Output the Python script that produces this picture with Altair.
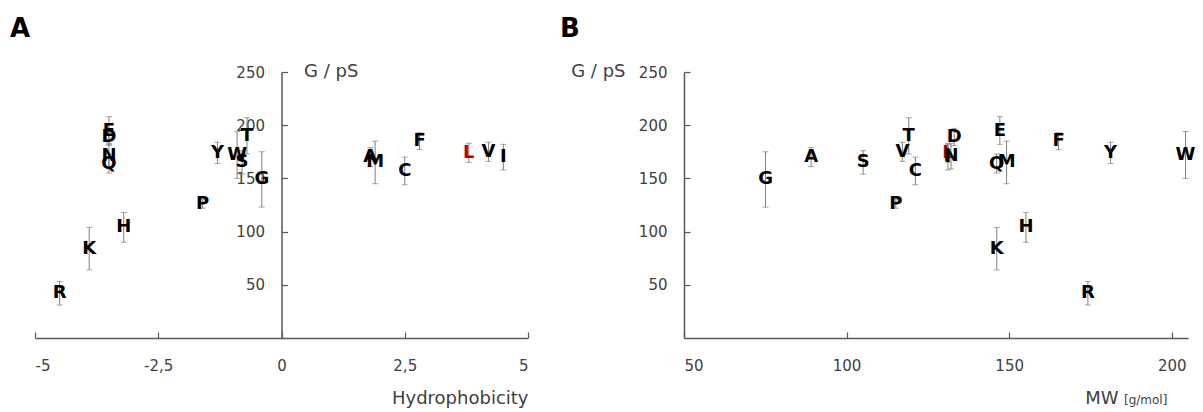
import altair as alt
import pandas as pd

# amino acids, ordered by molecular weight
aa = ["G", "A", "S", "P", "V", "T", "C", "L", "I", "N",
      "D", "Q", "K", "E", "M", "H", "F", "R", "Y", "W"]
mw = [75.07, 89.09, 105.09, 115.13, 117.15, 119.12, 121.16, 131.17, 131.17, 132.12,
      133.10, 146.15, 146.19, 147.13, 149.21, 155.16, 165.19, 174.20, 181.19, 204.23]
hydro = [-0.4, 1.8, -0.8, -1.6, 4.2, -0.7, 2.5, 3.8, 4.5, -3.5,
         -3.5, -3.5, -3.9, -3.5, 1.9, -3.2, 2.8, -4.5, -1.3, -0.9]
g_ps = [149, 170, 165, 126, 175, 190, 157, 174, 170, 171,
        189, 164, 84, 195, 165, 104, 185, 42, 174, 172]
g_err = [26, 9, 11, 4, 9, 17, 13, 9, 12, 12,
         8, 9, 20, 13, 20, 14, 8, 11, 10, 22]

x_ticks_a = [-5, -2.5, 0, 2.5, 5]
x_ticks_b = [50, 100, 150, 200]
y_ticks = [50, 100, 150, 200, 250]

df = pd.DataFrame({"aa": aa, "mw": mw, "hydro": hydro, "g": g_ps, "err": g_err})
df["lo"] = df["g"] - df["err"]
df["hi"] = df["g"] + df["err"]
df["col"] = ["#c00000" if a == "L" else "#000000" for a in aa]

FONT = "DejaVu Sans"
TXT = "#404040"
AXC = "#595959"
H = 266
W_A = 493
W_B = 504


def panel(xfield, xdomain, xticks, width, x0px, xtitle, xtitle_x, ytitle_x, ytitle_align,
          label, label_x, extra=None):
    xs = alt.Scale(domain=xdomain, nice=False, zero=False)
    ys = alt.Scale(domain=[0, 250], nice=False, zero=False)
    common = dict(grid=False, labelFont=FONT, labelFontSize=15, labelColor=TXT,
                  titleFont=FONT, titleFontSize=18, titleColor=TXT, titleFontWeight="normal")
    x_main = alt.Axis(values=xticks, ticks=False, domainColor=AXC, domainWidth=1.5,
                      labelPadding=20, labelExpr="replace(toString(datum.value), '.', ',')",
                      title=xtitle, titleX=xtitle_x, titleY=60, titleAlign="right",
                      titleBaseline="middle", titleAngle=0, orient="bottom", **common)
    y_main = alt.Axis(values=y_ticks, ticks=False, domainColor=AXC, domainWidth=1.5,
                      offset=-x0px, labelPadding=17, title="G / pS", titleAngle=0,
                      titleX=ytitle_x, titleY=-1, titleAlign=ytitle_align,
                      titleBaseline="middle", orient="left", **common)
    x_tick = alt.Axis(values=xticks, labels=False, domain=False, ticks=True, tickSize=6,
                      tickColor=AXC, tickWidth=1.2, title=None, offset=-H, orient="top",
                      grid=False)
    y_tick = alt.Axis(values=y_ticks, labels=False, domain=False, ticks=True, tickSize=6,
                      tickColor=AXC, tickWidth=1.2, title=None, offset=-(width - x0px),
                      orient="right", grid=False)

    bars = alt.Chart(df).mark_errorbar(
        ticks={"size": 6, "color": "#808080", "strokeWidth": 1},
        rule={"color": "#808080", "strokeWidth": 1},
    ).encode(
        x=alt.X(f"{xfield}:Q", scale=xs, axis=x_main),
        y=alt.Y("lo:Q", scale=ys, axis=y_main),
        y2="hi:Q",
    )
    letters = alt.Chart(df).mark_text(
        font=FONT, fontWeight="bold", fontSize=18, align="center", baseline="middle"
    ).encode(
        x=alt.X(f"{xfield}:Q", scale=xs, axis=x_tick),
        y=alt.Y("g:Q", scale=ys, axis=y_tick),
        text="aa:N",
        color=alt.Color("col:N", scale=None),
    )
    lab = alt.Chart(pd.DataFrame({"t": [label]})).mark_text(
        font=FONT, fontWeight="bold", fontSize=26, align="left", baseline="alphabetic",
        color="#000000"
    ).encode(text="t:N", x=alt.value(label_x), y=alt.value(-35))
    layers = [bars, letters, lab]
    if extra is not None:
        layers.append(extra)
    return alt.layer(*layers).resolve_axis(x="independent", y="independent").properties(
        width=width, height=H)


unit = alt.Chart(pd.DataFrame({"t": ["[g/mol]"]})).mark_text(
    font=FONT, fontSize=12, align="left", baseline="middle", color=TXT
).encode(text="t:N", x=alt.value(440), y=alt.value(H + 62))

pa = panel("hydro", [-5, 5], x_ticks_a, W_A, 246.5, "Hydrophobicity", W_A, 22, "left", "A", -25)
pb = panel("mw", [50, 205], x_ticks_b, W_B, 0, "MW", 434, -59, "right", "B", -124, unit)

chart = alt.hconcat(pa, pb, spacing=156, bounds="flush").properties(
    padding={"left": 10, "top": 16, "right": 5, "bottom": 3}
).configure_view(stroke=None)

chart.save("out.html", embed_options={"renderer": "svg", "actions": False})
